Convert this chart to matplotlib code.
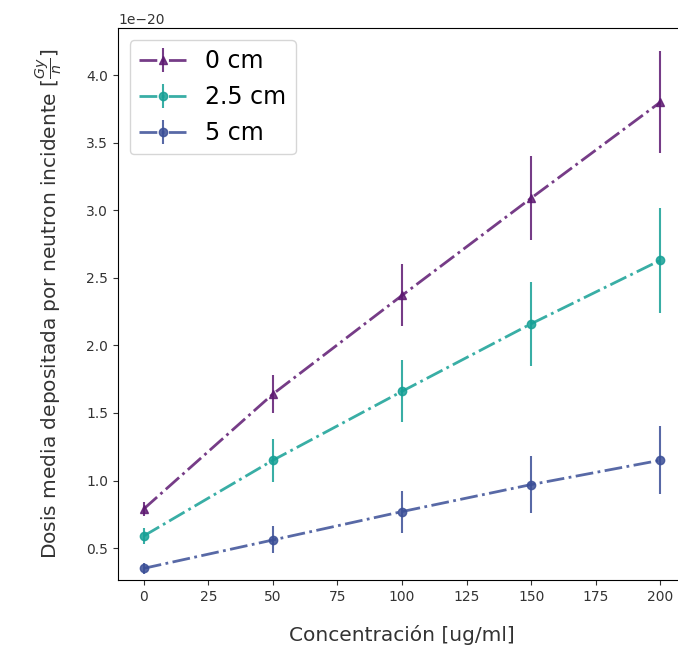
import matplotlib
matplotlib.use("Agg")
import matplotlib.pyplot as plt
import numpy as np

conc = [0, 50, 100, 150, 200]
labels = ["0 cm", "2.5 cm", "5 cm"]
dose = [
    [0.79, 1.64, 2.37, 3.09, 3.80],
    [0.59, 1.15, 1.66, 2.16, 2.63],
    [0.35, 0.56, 0.77, 0.97, 1.15],
]
err = [
    [0.05, 0.14, 0.23, 0.31, 0.375],
    [0.06, 0.16, 0.23, 0.31, 0.39],
    [0.04, 0.10, 0.155, 0.21, 0.25],
]
colors = ["#5e1a72", "#16a096", "#3b4f97"]
markers = ["^", "o", "o"]
scale = 1e-20

fig = plt.figure(figsize=(6.78, 6.54), dpi=100)
ax = fig.add_axes([0.174, 0.113, 0.838, 0.844])

for lab, y, e, c, m in zip(labels, dose, err, colors, markers):
    ax.errorbar(conc, np.array(y) * scale, yerr=np.array(e) * scale,
                fmt=m, linestyle="-.", color=c, ecolor=c, linewidth=2,
                elinewidth=1.5, markersize=6,
                alpha=0.85, label=lab)

ax.set_xlim(-10, 210)
ax.set_ylim(0.263e-20, 4.348e-20)
ax.set_xticks(np.arange(0, 201, 25))
ax.set_yticks(np.arange(0.5e-20, 4.01e-20, 0.5e-20))
ax.tick_params(labelsize=10, colors="#333333")
ax.set_xlabel("Concentración [ug/ml]", fontsize=14.5, labelpad=15, color="#333333")
ax.set_ylabel(r"Dosis media depositada por neutron incidente [$\frac{Gy}{n}$]",
              fontsize=14.5, labelpad=16, color="#333333")
leg = ax.legend(loc="upper left", fontsize=17, handlelength=2.0)
for ln in leg.get_lines():
    ln.set_linestyle("-")

fig.savefig("out.png", dpi=100)
